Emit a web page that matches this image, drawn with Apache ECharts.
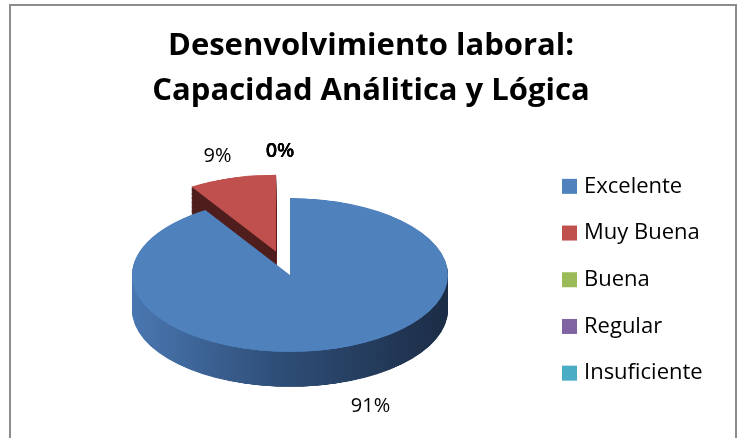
<!DOCTYPE html>
<html>
<head>
<meta charset="utf-8">
<script src="https://cdn.jsdelivr.net/npm/echarts@6/dist/echarts.min.js"></script>
<style>
html,body{margin:0;padding:0;background:#fff;}
#wrap{position:relative;width:742px;height:438px;overflow:hidden;background:#fff;}
#pie{position:absolute;left:0;top:0;width:742px;transform-origin:0 0;}
#main{position:absolute;left:0;top:0;width:742px;height:438px;}
</style>
</head>
<body>
<div id="wrap"><div id="pie"></div><div id="main"></div></div>
<script>
// ---- data ----
const titleLines = ['Desenvolvimiento laboral:', 'Capacidad Análitica y Lógica'];
const categories = ['Excelente', 'Muy Buena', 'Buena', 'Regular', 'Insuficiente'];
const values = [91, 9, 0, 0, 0];
const explodedCategory = 'Muy Buena';

// ---- styles / geometry ----
const TOP_COLORS = ['#4f81bd', '#c0504d', '#9bbb59', '#8064a2', '#4bacc6'];
const SIDE_COLORS = [
  new echarts.graphic.LinearGradient(0, 0, 1, 0, [
    {offset: 0, color: '#4a77b1'}, {offset: 0.45, color: '#2f4f79'}, {offset: 1, color: '#1c2d46'}]),
  '#4f1e1d', '#5d7136', '#4c3b61', '#2d6777'];
const SCALE_Y = 0.487;       // ellipse flattening
const CX = 290, CY = 275;    // screen centre of top face
const R = 158;               // horizontal radius
const DEPTH = 35;            // screen depth of the pie side
const EXPLODE = 50;
const FONT = '"Open Sans", Lato, sans-serif';

const PH = Math.ceil(438 / SCALE_Y);
const pieDiv = document.getElementById('pie');
pieDiv.style.height = PH + 'px';
pieDiv.style.transform = 'scaleY(' + SCALE_Y + ')';

const cyU = CY / SCALE_Y;
const depthU = DEPTH / SCALE_Y;
const STEP = 1.6;

function pieData(colors) {
  return categories.map((c, i) => ({
    name: c, value: values[i], selected: c === explodedCategory,
    itemStyle: {color: colors[i]}
  }));
}
const pieBase = {
  type: 'pie', radius: [0, R], startAngle: 90, clockwise: true,
  selectedMode: 'single', selectedOffset: EXPLODE, silent: true,
  animation: false, label: {show: false}, labelLine: {show: false},
  emphasis: {disabled: true}, itemStyle: {borderWidth: 0}
};
const layerSeries = [];
for (let d = depthU; d > 0; d -= STEP) {
  layerSeries.push(Object.assign({}, pieBase, {center: [CX, cyU + d], data: pieData(SIDE_COLORS)}));
}
layerSeries.push(Object.assign({}, pieBase, {center: [CX, cyU], data: pieData(TOP_COLORS)}));

const pieChart = echarts.init(pieDiv, null, {renderer: 'canvas'});
pieChart.setOption({animation: false, series: layerSeries});

// ---- overlay: title, legend, labels, frame ----
const total = values.reduce((a, b) => a + b, 0);
const LX = 260, LY = 124, LOWER_DROP = 12;
const mainChart = echarts.init(document.getElementById('main'), null, {renderer: 'canvas'});
mainChart.setOption({
  animation: false,
  title: [
    {text: titleLines[0], left: 'center', top: 31, padding: 0,
     textStyle: {fontFamily: FONT, fontWeight: 'bold', fontSize: 31, color: '#000'}},
    {text: titleLines[1], left: 'center', top: 76, padding: 0,
     textStyle: {fontFamily: FONT, fontWeight: 'bold', fontSize: 31, color: '#000'}}
  ],
  legend: {
    orient: 'vertical', left: 562, top: 175, icon: 'rect', padding: 0,
    itemWidth: 15, itemHeight: 15, itemGap: 24,
    selectedMode: false,
    textStyle: {fontFamily: FONT, fontSize: 22, color: '#000', lineHeight: 22.7, padding: [0, 0, 0, 2]},
    data: categories.map((c, i) => ({name: c, itemStyle: {color: TOP_COLORS[i], opacity: 1}}))
  },
  graphic: [{type: 'rect', shape: {x: 10, y: 5, width: 726, height: 600},
    style: {fill: 'none', stroke: '#8c8c8c', lineWidth: 2}, silent: true}],
  series: [{
    type: 'pie', center: [CX, CY], radius: [0, R], startAngle: 90, clockwise: true,
    silent: true, avoidLabelOverlap: false,
    data: categories.map((c, i) => ({name: c, value: values[i], itemStyle: {color: 'rgba(0,0,0,0)'},
      label: {fontWeight: values[i] === 0 ? 600 : 'normal'}})),
    label: {show: true, position: 'outside', formatter: '{d}%', fontFamily: FONT, fontSize: 20, color: '#000'},
    labelLine: {show: false},
    labelLayout: function (p) {
      const idx = p.dataIndex;
      let before = 0;
      for (let k = 0; k < idx; k++) before += values[k];
      const mid = (before + values[idx] / 2) / total * 2 * Math.PI;
      const s = Math.sin(mid), c = Math.cos(mid);
      return {x: CX + s * LX - (values[idx] === 0 ? 10 : 0) + (c < 0 ? 8 : 0),
              y: CY - c * LY + (c < 0 ? LOWER_DROP : 0), align: 'center', verticalAlign: 'middle'};
    }
  }]
});
</script>
</body>
</html>
